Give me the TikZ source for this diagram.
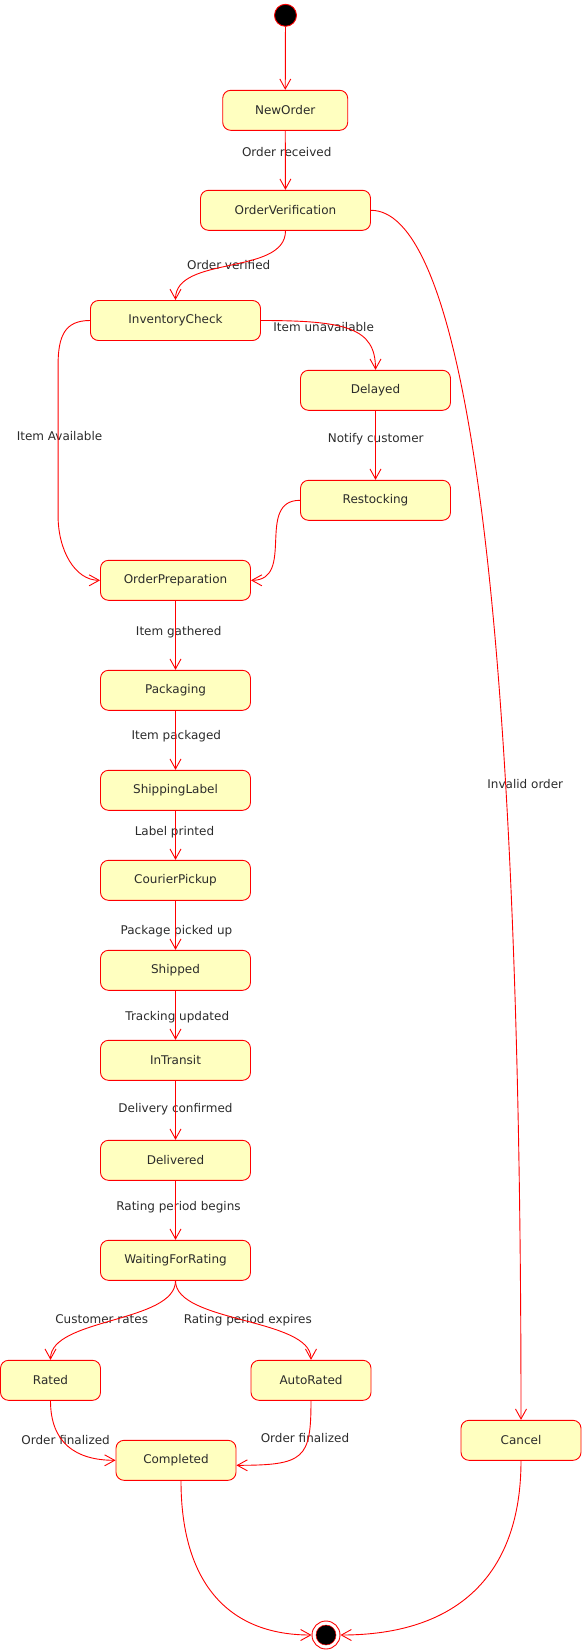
\documentclass[tikz,border=0pt]{standalone}
\usepackage{fontspec}
\setmainfont{DejaVu Sans}
\usepackage{tikz}
\usetikzlibrary{arrows.meta}
\definecolor{stateyellow}{HTML}{FFFFC0}
\definecolor{statered}{HTML}{FF0000}
\definecolor{labelgray}{HTML}{2B2B2B}

\begin{document}
\begin{tikzpicture}[x=1pt, y=-1pt,
  statebox/.style={draw=statered, fill=stateyellow, rounded corners=8pt, line width=0.9pt,
    minimum height=40pt, inner sep=0pt, font=\fontsize{12}{14}\selectfont, text=labelgray},
  lbl/.style={font=\fontsize{12}{14}\selectfont, text=labelgray, inner sep=0pt},
  trans/.style={draw=statered, line width=0.9pt, -{Straight Barb[length=10pt,width=11pt]}}]
\useasboundingbox (0,0) rectangle (582,1652);

\node[circle, draw=statered, fill=black, line width=0.9pt, minimum size=22pt, inner sep=0pt] (start) at (285.5,15.3) {};
\node[statebox, minimum width=125pt] (neworder) at (285.2,110.3) {NewOrder};
\node[statebox, minimum width=170pt] (verify) at (285.5,210.3) {OrderVerification};
\node[statebox, minimum width=170pt] (invcheck) at (175.5,320.5) {InventoryCheck};
\node[statebox, minimum width=150pt] (delayed) at (375.5,390.3) {Delayed};
\node[statebox, minimum width=150pt] (restock) at (375.5,500.3) {Restocking};
\node[statebox, minimum width=150pt] (prep) at (175.5,580.3) {OrderPreparation};
\node[statebox, minimum width=150pt] (packaging) at (175.5,690.3) {Packaging};
\node[statebox, minimum width=150pt] (shiplabel) at (175.5,790.3) {ShippingLabel};
\node[statebox, minimum width=150pt] (pickup) at (175.5,880.3) {CourierPickup};
\node[statebox, minimum width=150pt] (shipped) at (175.5,970.3) {Shipped};
\node[statebox, minimum width=150pt] (transit) at (175.5,1060.3) {InTransit};
\node[statebox, minimum width=150pt] (delivered) at (175.5,1160.3) {Delivered};
\node[statebox, minimum width=150pt] (waiting) at (175.5,1260.3) {WaitingForRating};
\node[statebox, minimum width=100pt] (rated) at (50.5,1380.3) {Rated};
\node[statebox, minimum width=120pt] (autorated) at (311,1380.3) {AutoRated};
\node[statebox, minimum width=120pt] (completed) at (176,1460.3) {Completed};
\node[statebox, minimum width=120pt] (cancel) at (521,1440.3) {Cancel};
\node[circle, draw=statered, line width=0.9pt, minimum size=28pt, inner sep=0pt] (final) at (326,1635) {};
\node[circle, fill=black, draw=statered, line width=0.5pt, minimum size=20pt, inner sep=0pt] (finaldot) at (final) {};

\node[lbl] (lreceived) at (286.7,152.3) {Order received};
\node[lbl] (lverified) at (228.7,264.7) {Order verified};
\node[lbl] (lunavail) at (323.7,326.7) {Item unavailable};
\node[lbl] (lavail) at (59.5,435.7) {Item Available};
\node[lbl] (lnotify) at (375.7,439.3) {Notify customer};
\node[lbl] (linvalid) at (525.3,784) {Invalid order};
\node[lbl] (lgathered) at (178.7,631.7) {Item gathered};
\node[lbl] (lpackaged) at (176.3,735.7) {Item packaged};
\node[lbl] (lprinted) at (174.5,832.3) {Label printed};
\node[lbl] (lpicked) at (176.5,930.7) {Package picked up};
\node[lbl] (ltracking) at (177.3,1017.3) {Tracking updated};
\node[lbl] (lconfirmed) at (175.5,1109.3) {Delivery confirmed};
\node[lbl] (lbegins) at (178.5,1207.3) {Rating period begins};
\node[lbl] (lrates) at (101.7,1318.7) {Customer rates};
\node[lbl] (lexpires) at (247.8,1320.3) {Rating period expires};
\node[lbl] (lfinal1) at (65.6,1440.3) {Order finalized};
\node[lbl] (lfinal2) at (305,1438.3) {Order finalized};

\draw[trans] (start) -- (neworder);
\draw[trans] (neworder) -- (verify);
\draw[trans] (verify.south) .. controls +(0,45) and +(0,-45) .. (invcheck.north);
\draw[trans] (verify.east) .. controls +(80,0) and +(0,-920) .. (cancel.north);
\draw[trans] (invcheck.east) .. controls +(85,0) and +(0,-42) .. (delayed.north);
\draw[trans] (invcheck.west) .. controls +(-25,0) and +(0,-30) .. ++(-32,45) -- ++(0,150)
  .. controls +(0,35) and +(-25,0) .. (prep.west);
\draw[trans] (delayed) -- (restock);
\draw[trans] (restock.west) .. controls +(-45,0) and +(45,0) .. (prep.east);
\draw[trans] (prep) -- (packaging);
\draw[trans] (packaging) -- (shiplabel);
\draw[trans] (shiplabel) -- (pickup);
\draw[trans] (pickup) -- (shipped);
\draw[trans] (shipped) -- (transit);
\draw[trans] (transit) -- (delivered);
\draw[trans] (delivered) -- (waiting);
\draw[trans] (waiting.south) .. controls +(0,42) and +(0,-42) .. (rated.north);
\draw[trans] (waiting.south) .. controls +(0,42) and +(0,-42) .. (autorated.north);
\draw[trans] (rated.south) .. controls +(0,42) and +(-40,0) .. (completed.west);
\draw[trans] (autorated.south) .. controls +(0,58) and +(68,0) .. ([yshift=-5pt]completed.east);
\draw[trans] ([xshift=5pt]completed.south) .. controls +(0,100) and +(-85,0) .. (final.west);
\draw[trans] (cancel.south) .. controls +(0,114) and +(117,0) .. (final.east);
\end{tikzpicture}
\end{document}
